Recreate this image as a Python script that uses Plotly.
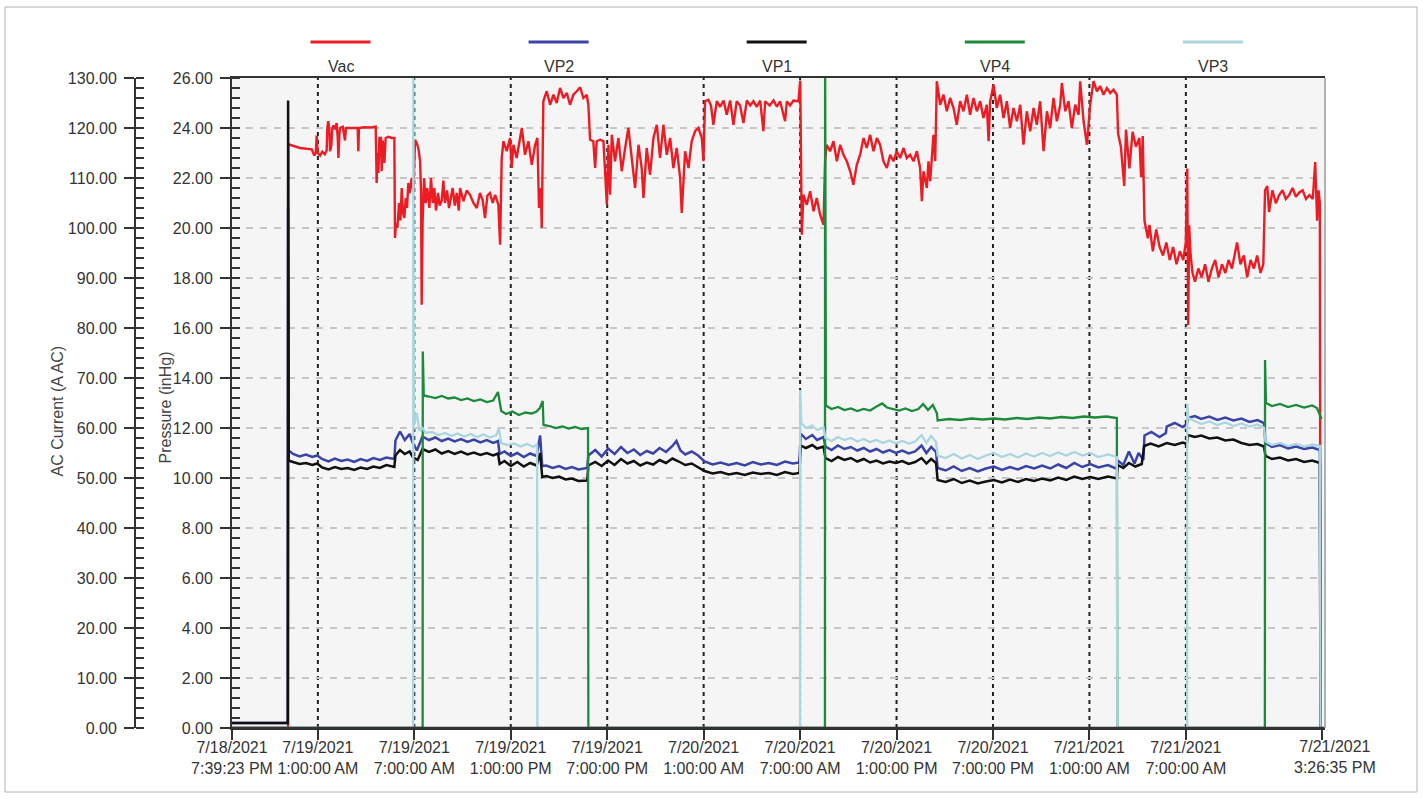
import pandas as pd
import plotly.graph_objects as go

# ---------------- data (hours since 7/18/2021 7:39:23 PM, value) ----------------
START = "2021-07-18 19:39:23"
X_END = "2021-07-21 15:39:23"

VAC_INHG = [
    (0.00, 0.0), (3.49, 0.0), (3.50, 23.35), (4.23, 23.2), (4.96, 23.15), (5.12, 22.9), (5.21, 23.0), (5.27, 23.7),
    (5.33, 23.0), (5.48, 22.9), (5.62, 23.05), (5.77, 22.95), (5.89, 23.1), (5.93, 24.0), (5.99, 24.27), (6.06, 23.9),
    (6.10, 23.07), (6.18, 23.3), (6.24, 24.0), (6.31, 24.1), (6.41, 23.95), (6.51, 24.2), (6.58, 23.6), (6.62, 22.8),
    (6.68, 23.7), (6.72, 24.0), (6.89, 24.05), (7.03, 23.5), (7.09, 24.0), (7.34, 24.0), (7.65, 24.02), (7.82, 24.0),
    (7.86, 23.07), (7.90, 24.0), (8.21, 24.03), (8.63, 24.02), (8.94, 24.05), (9.00, 21.8), (9.04, 23.0), (9.11, 22.2),
    (9.17, 23.6), (9.27, 23.6), (9.31, 22.27), (9.38, 23.5), (9.48, 22.6), (9.56, 23.6), (9.73, 23.65), (9.94, 23.6),
    (10.10, 23.6), (10.14, 19.6), (10.21, 20.2), (10.29, 20.0), (10.39, 21.0), (10.48, 20.3), (10.56, 21.6), (10.64, 20.6),
    (10.72, 20.4), (10.81, 21.2), (10.89, 20.8), (10.97, 21.8), (11.06, 21.4), (11.18, 22.0), (11.28, 21.5), (11.39, 23.53),
    (11.49, 23.4), (11.59, 23.2), (11.70, 22.7), (11.76, 21.5), (11.80, 16.93), (11.86, 20.27), (11.95, 22.0), (12.05, 21.0),
    (12.15, 21.6), (12.28, 20.8), (12.38, 22.0), (12.49, 21.0), (12.59, 21.6), (12.69, 20.7), (12.82, 21.4), (12.92, 20.9),
    (13.05, 21.1), (13.15, 21.9), (13.25, 21.0), (13.38, 21.5), (13.50, 20.8), (13.61, 21.2), (13.73, 21.6), (13.86, 20.9),
    (13.98, 21.4), (14.11, 20.7), (14.19, 21.6), (14.40, 21.07), (14.60, 21.5), (14.81, 21.33), (15.02, 21.0), (15.23, 20.8),
    (15.43, 21.4), (15.60, 21.1), (15.74, 20.4), (15.89, 21.3), (16.05, 21.4), (16.22, 21.0), (16.37, 21.33), (16.57, 20.93),
    (16.68, 19.33), (16.78, 22.8), (16.89, 23.47), (17.09, 23.07), (17.30, 23.6), (17.40, 22.4), (17.51, 23.33), (17.71, 22.8),
    (17.92, 23.6), (18.03, 24.0), (18.23, 22.93), (18.44, 23.47), (18.65, 22.53), (18.86, 23.33), (19.00, 23.6), (19.10, 20.8),
    (19.21, 21.6), (19.27, 20.0), (19.37, 25.07), (19.58, 25.47), (19.79, 24.93), (20.00, 25.33), (20.20, 25.0), (20.41, 25.6),
    (20.62, 25.2), (20.83, 25.4), (21.03, 24.93), (21.24, 25.33), (21.45, 25.47), (21.66, 25.63), (21.86, 25.2), (22.07, 25.33),
    (22.17, 24.93), (22.28, 23.53), (22.48, 23.47), (22.59, 22.4), (22.69, 23.47), (22.90, 23.53), (23.11, 23.47), (23.32, 20.93),
    (23.42, 23.33), (23.52, 21.33), (23.63, 23.73), (23.83, 22.67), (24.04, 23.6), (24.25, 22.27), (24.46, 23.2), (24.66, 24.0),
    (24.87, 22.8), (25.08, 21.6), (25.29, 23.33), (25.49, 22.4), (25.60, 21.2), (25.80, 23.2), (26.01, 22.13), (26.22, 23.6),
    (26.43, 24.13), (26.63, 22.8), (26.84, 24.13), (27.05, 22.93), (27.26, 23.6), (27.46, 22.4), (27.67, 23.2), (27.88, 22.0),
    (27.98, 20.6), (28.19, 23.07), (28.40, 22.4), (28.60, 23.47), (28.81, 23.87), (29.02, 24.0), (29.23, 23.6), (29.33, 22.67),
    (29.43, 25.07), (29.64, 25.13), (29.80, 24.9), (29.95, 24.13), (30.16, 25.07), (30.37, 24.85), (30.58, 25.1), (30.78, 24.53),
    (30.99, 25.1), (31.20, 24.13), (31.40, 25.07), (31.61, 24.9), (31.82, 24.2), (32.03, 25.1), (32.24, 24.9), (32.44, 25.07),
    (32.65, 24.85), (32.86, 25.1), (33.06, 23.87), (33.17, 25.07), (33.45, 24.9), (33.69, 25.1), (33.90, 24.85), (34.10, 25.07),
    (34.41, 24.27), (34.52, 25.07), (34.72, 24.9), (34.93, 25.1), (35.24, 25.07), (35.35, 25.9), (35.45, 19.73), (35.55, 21.33),
    (35.76, 20.93), (35.97, 21.47), (36.18, 20.67), (36.38, 21.2), (36.59, 20.53), (36.80, 20.13), (36.90, 22.67), (37.00, 23.33),
    (37.21, 23.07), (37.42, 23.47), (37.63, 22.67), (37.84, 23.33), (38.04, 22.93), (38.25, 22.67), (38.46, 22.27), (38.66, 21.73),
    (38.87, 22.53), (39.08, 22.93), (39.29, 23.6), (39.49, 23.2), (39.70, 23.73), (39.91, 23.07), (40.12, 23.6), (40.32, 23.33),
    (40.53, 22.67), (40.74, 22.4), (40.95, 22.93), (41.15, 22.67), (41.36, 23.07), (41.57, 22.8), (41.78, 23.2), (41.98, 22.8),
    (42.19, 22.93), (42.40, 22.67), (42.61, 23.07), (42.81, 22.4), (42.92, 21.07), (43.02, 22.27), (43.23, 21.6), (43.33, 22.67),
    (43.44, 21.87), (43.64, 23.73), (43.75, 22.67), (43.85, 25.87), (44.06, 24.93), (44.27, 25.33), (44.47, 24.67), (44.68, 25.2),
    (44.89, 24.8), (45.09, 24.13), (45.30, 25.07), (45.51, 24.67), (45.72, 25.33), (45.92, 24.53), (46.13, 25.2), (46.34, 24.67),
    (46.55, 25.07), (46.75, 24.4), (46.96, 24.93), (47.07, 23.47), (47.17, 25.07), (47.38, 25.73), (47.58, 24.8), (47.79, 25.33),
    (48.00, 24.4), (48.21, 25.07), (48.41, 24.0), (48.62, 24.8), (48.83, 24.27), (49.04, 24.93), (49.24, 23.33), (49.45, 24.67),
    (49.66, 23.87), (49.87, 24.8), (50.07, 24.13), (50.28, 25.07), (50.49, 23.07), (50.70, 24.67), (50.90, 24.0), (51.11, 25.2),
    (51.32, 24.27), (51.53, 24.93), (51.63, 25.8), (51.84, 24.67), (52.04, 25.07), (52.25, 24.0), (52.46, 24.93), (52.67, 24.53),
    (52.77, 25.87), (52.98, 24.27), (53.19, 23.33), (53.39, 24.93), (53.60, 25.87), (53.81, 25.47), (54.02, 25.67), (54.22, 25.33),
    (54.43, 25.6), (54.64, 25.4), (54.84, 25.53), (55.05, 25.33), (55.13, 23.77), (55.30, 23.25), (55.51, 21.68), (55.62, 23.94),
    (55.83, 22.38), (56.03, 23.85), (56.24, 23.25), (56.45, 23.6), (56.56, 22.03), (56.66, 23.68), (56.77, 20.29), (56.98, 19.59),
    (57.08, 20.12), (57.29, 19.07), (57.50, 19.94), (57.71, 19.24), (57.92, 18.9), (58.13, 19.42), (58.34, 18.72), (58.55, 19.24),
    (58.76, 18.55), (58.97, 19.07), (59.18, 18.72), (59.34, 19.42), (59.43, 22.38), (59.49, 16.11), (59.55, 20.11), (59.64, 18.9),
    (59.76, 18.2), (59.91, 17.85), (60.12, 18.38), (60.33, 18.03), (60.54, 18.55), (60.75, 17.85), (60.96, 18.38), (61.17, 18.72),
    (61.38, 18.03), (61.59, 18.55), (61.80, 18.2), (62.00, 18.72), (62.21, 18.38), (62.42, 19.07), (62.53, 19.42), (62.74, 18.55),
    (62.95, 18.9), (63.16, 18.03), (63.37, 18.72), (63.58, 18.38), (63.78, 18.9), (63.99, 18.2), (64.16, 18.55), (64.27, 21.51),
    (64.41, 21.68), (64.52, 20.64), (64.73, 21.51), (64.94, 20.99), (65.15, 21.32), (65.36, 21.51), (65.56, 21.16), (65.77, 21.32),
    (65.98, 21.6), (66.19, 21.25), (66.40, 21.42), (66.61, 21.51), (66.82, 21.16), (67.03, 21.32), (67.24, 21.16), (67.39, 22.64),
    (67.51, 20.29), (67.60, 21.51), (67.68, 20.99), (67.72, 0.0), (67.79, 0.0),
]

VP2_AMPS = [
    (0.00, 1.0), (3.47, 1.0), (3.49, 104.0), (3.53, 55.5), (3.8, 54.8), (4.2, 54.3), (4.6, 54.7), (5.0, 54.2), (5.3, 54.5),
    (5.6, 53.8), (6.0, 53.3), (6.4, 53.9), (6.8, 53.4), (7.2, 53.7), (7.6, 53.2), (8.0, 53.8), (8.4, 53.4), (8.8, 54.0),
    (9.2, 53.6), (9.6, 54.1), (10.1, 53.8), (10.17, 57.5), (10.45, 59.3), (10.75, 57.6), (11.05, 58.8), (11.25, 57.0),
    (11.5, 55.5), (11.85, 58.3), (12.25, 57.6), (12.65, 58.1), (13.05, 57.4), (13.45, 57.9), (13.85, 57.3), (14.25, 57.8),
    (14.65, 57.2), (15.05, 57.7), (15.45, 57.1), (15.85, 57.6), (16.25, 57.0), (16.55, 57.4), (16.65, 54.8), (16.95, 55.3),
    (17.35, 54.4), (17.75, 55.0), (18.15, 54.2), (18.55, 54.9), (18.95, 54.4), (19.17, 58.5), (19.3, 52.4), (19.55, 52.5),
    (19.95, 52.0), (20.35, 52.4), (20.75, 51.8), (21.15, 52.2), (21.55, 51.7), (22.1, 52.0), (22.17, 54.5), (22.6, 55.6),
    (23.0, 54.3), (23.4, 55.9), (23.8, 54.8), (24.2, 56.2), (24.6, 55.0), (25.0, 55.7), (25.4, 54.6), (25.8, 55.4),
    (26.2, 54.9), (26.6, 56.0), (27.0, 55.2), (27.4, 56.4), (27.65, 57.4), (27.9, 55.5), (28.2, 54.7), (28.6, 55.3),
    (29.0, 54.5), (29.4, 53.3), (29.9, 52.7), (30.4, 53.1), (30.9, 52.6), (31.4, 53.0), (31.9, 52.5), (32.4, 53.2),
    (32.9, 52.7), (33.4, 53.0), (33.9, 52.6), (34.4, 53.3), (34.9, 52.9), (35.3, 53.1), (35.38, 58.9), (35.7, 57.8),
    (36.1, 58.6), (36.4, 57.6), (36.8, 58.2), (36.92, 56.3), (37.3, 55.6), (37.7, 56.5), (38.1, 55.8), (38.5, 56.2),
    (38.9, 55.5), (39.3, 56.0), (39.7, 55.3), (40.1, 55.8), (40.5, 55.1), (40.9, 55.6), (41.3, 55.0), (41.7, 55.5),
    (42.1, 54.9), (42.5, 55.3), (42.9, 56.5), (43.2, 55.0), (43.5, 56.2), (43.8, 55.2), (43.9, 52.0), (44.4, 51.5),
    (44.9, 52.3), (45.4, 51.4), (45.9, 52.0), (46.4, 51.3), (46.9, 51.9), (47.4, 52.3), (47.9, 51.6), (48.4, 52.2),
    (48.9, 51.7), (49.4, 52.4), (49.9, 51.9), (50.4, 52.5), (50.9, 51.9), (51.4, 52.7), (51.9, 52.0), (52.4, 53.0),
    (52.9, 52.2), (53.4, 52.8), (53.9, 52.1), (54.5, 52.6), (55.05, 51.8), (55.1, 53.5), (55.45, 52.6), (55.8, 55.3),
    (56.15, 52.9), (56.4, 55.0), (56.7, 53.6), (56.77, 58.5), (57.2, 59.2), (57.7, 58.2), (58.1, 59.0), (58.15, 60.3),
    (58.65, 61.0), (59.15, 60.2), (59.4, 60.8), (59.47, 62.0), (59.9, 62.4), (60.3, 61.8), (60.8, 62.3), (61.3, 61.6),
    (61.8, 62.1), (62.3, 61.5), (62.8, 61.9), (63.3, 61.2), (63.8, 61.6), (64.2, 61.0), (64.3, 57.0), (64.7, 56.2),
    (65.2, 56.6), (65.7, 55.9), (66.2, 56.3), (66.7, 55.8), (67.2, 56.1), (67.68, 55.6), (67.72, 0.5), (67.79, 0.5),
]

VP1_AMPS = [
    (0.00, 1.0), (3.47, 1.0), (3.49, 125.5), (3.53, 53.5), (3.8, 53.2), (4.2, 52.8), (4.6, 53.0), (5.0, 52.6), (5.3, 52.9),
    (5.6, 52.1), (6.0, 51.7), (6.4, 52.2), (6.8, 51.8), (7.2, 52.0), (7.6, 51.6), (8.0, 52.1), (8.4, 51.8), (8.8, 52.3),
    (9.2, 52.0), (9.6, 52.6), (10.1, 52.2), (10.17, 54.5), (10.45, 55.6), (10.75, 54.8), (11.05, 55.3), (11.25, 54.2),
    (11.55, 53.6), (11.85, 55.8), (12.25, 55.2), (12.65, 55.7), (13.05, 54.9), (13.45, 55.4), (13.85, 54.8), (14.25, 55.3),
    (14.65, 54.7), (15.05, 55.1), (15.45, 54.6), (15.85, 55.0), (16.25, 54.5), (16.55, 54.9), (16.65, 52.8), (16.95, 53.4),
    (17.35, 52.4), (17.75, 53.2), (18.15, 52.3), (18.55, 53.0), (18.95, 52.5), (19.17, 55.0), (19.3, 50.2), (19.55, 50.4),
    (19.95, 50.0), (20.35, 50.3), (20.75, 49.7), (21.15, 49.9), (21.55, 49.4), (22.1, 49.5), (22.17, 52.5), (22.6, 53.2),
    (23.0, 52.4), (23.4, 53.5), (23.8, 52.6), (24.2, 53.8), (24.6, 52.9), (25.0, 53.4), (25.4, 52.5), (25.8, 53.1),
    (26.2, 52.7), (26.6, 53.6), (27.0, 53.0), (27.4, 53.9), (27.8, 53.3), (28.2, 52.6), (28.6, 52.9), (29.0, 52.2),
    (29.4, 51.4), (29.9, 50.9), (30.4, 51.2), (30.9, 50.7), (31.4, 51.0), (31.9, 50.6), (32.4, 51.1), (32.9, 50.8),
    (33.4, 51.0), (33.9, 50.6), (34.4, 51.2), (34.9, 50.8), (35.3, 51.0), (35.38, 56.5), (35.7, 56.0), (36.1, 56.6),
    (36.4, 55.9), (36.8, 56.3), (36.92, 54.0), (37.3, 53.4), (37.7, 54.2), (38.1, 53.6), (38.5, 54.0), (38.9, 53.3),
    (39.3, 53.8), (39.7, 53.1), (40.1, 53.5), (40.5, 52.9), (40.9, 53.3), (41.3, 53.0), (41.7, 53.4), (42.1, 52.8),
    (42.5, 53.2), (42.9, 54.0), (43.2, 52.9), (43.5, 53.8), (43.8, 53.0), (43.9, 49.6), (44.4, 49.2), (44.9, 49.8),
    (45.4, 49.0), (45.9, 49.5), (46.4, 48.9), (46.9, 49.3), (47.4, 49.6), (47.9, 49.1), (48.4, 49.7), (48.9, 49.2),
    (49.4, 49.8), (49.9, 49.4), (50.4, 49.9), (50.9, 49.5), (51.4, 50.1), (51.9, 49.6), (52.4, 50.3), (52.9, 49.8),
    (53.4, 50.2), (53.9, 49.8), (54.5, 50.3), (55.05, 49.9), (55.1, 52.6), (55.45, 52.0), (55.8, 53.0), (56.2, 52.3),
    (56.6, 52.8), (56.75, 56.4), (57.15, 56.9), (57.65, 56.3), (58.15, 57.0), (58.65, 56.6), (59.15, 57.1), (59.4, 56.8),
    (59.47, 58.6), (59.9, 58.2), (60.3, 58.5), (60.8, 57.9), (61.3, 58.1), (61.8, 57.5), (62.3, 57.7), (62.8, 57.0),
    (63.3, 56.6), (63.8, 56.8), (64.2, 56.3), (64.3, 54.4), (64.7, 53.8), (65.2, 54.1), (65.7, 53.5), (66.2, 53.8),
    (66.7, 53.2), (67.2, 53.5), (67.68, 53.0), (67.72, 0.5), (67.79, 0.5),
]

VP4_AMPS = [
    (0.00, 0.0), (11.86, 0.0), (11.87, 75.3), (11.93, 66.5), (12.25, 66.3), (12.65, 66.0), (13.05, 66.4), (13.45, 65.9),
    (13.85, 66.1), (14.25, 65.6), (14.65, 65.9), (15.05, 65.4), (15.45, 65.7), (15.85, 65.2), (16.25, 65.5), (16.55, 67.2),
    (16.75, 63.4), (17.05, 62.8), (17.45, 63.3), (17.85, 62.6), (18.25, 63.1), (18.65, 62.9), (18.95, 63.3), (19.15, 64.0),
    (19.33, 65.4), (19.38, 60.6), (19.75, 60.4), (20.15, 60.0), (20.55, 60.3), (20.95, 59.9), (21.35, 60.2), (21.75, 59.8),
    (22.15, 60.0), (22.17, 0.0), (36.89, 0.0), (36.90, 135.0), (36.95, 64.5), (37.3, 63.8), (37.7, 64.2), (38.1, 63.6),
    (38.5, 63.9), (38.9, 63.4), (39.3, 63.8), (39.7, 63.5), (40.1, 64.3), (40.45, 64.9), (40.75, 64.1), (41.1, 63.8),
    (41.5, 63.5), (41.9, 63.9), (42.3, 63.4), (42.7, 63.8), (43.0, 64.8), (43.3, 63.6), (43.6, 64.6), (43.85, 63.0),
    (43.9, 61.5), (44.6, 61.8), (45.3, 61.6), (46.0, 61.9), (46.7, 61.7), (47.4, 61.9), (48.1, 61.7), (48.8, 62.0),
    (49.5, 61.8), (50.2, 62.1), (50.9, 61.9), (51.6, 62.2), (52.3, 62.0), (53.0, 62.3), (53.7, 62.1), (54.4, 62.3),
    (55.05, 62.0), (55.08, 0.0), (64.26, 0.0), (64.27, 73.6), (64.33, 65.0), (64.7, 64.4), (65.2, 64.8), (65.7, 64.2),
    (66.2, 64.6), (66.7, 64.1), (67.2, 64.5), (67.5, 64.0), (67.7, 62.5), (67.79, 61.8),
]

VP3_AMPS = [
    (0.00, 0.0), (11.27, 0.0), (11.28, 135.0), (11.32, 60.5), (11.5, 63.0), (11.65, 59.5), (11.85, 60.0), (12.05, 59.0),
    (12.45, 59.2), (12.85, 58.6), (13.25, 59.0), (13.65, 58.4), (14.05, 58.9), (14.45, 58.3), (14.85, 58.8), (15.25, 58.2),
    (15.65, 58.7), (16.05, 58.1), (16.45, 58.6), (16.6, 60.0), (16.75, 57.0), (17.15, 56.6), (17.55, 56.9), (17.95, 56.3),
    (18.35, 56.8), (18.75, 56.2), (18.98, 56.7), (19.0, 0.0), (35.34, 0.0), (35.35, 67.6), (35.42, 61.0), (35.7, 60.0),
    (36.1, 60.5), (36.4, 59.6), (36.8, 60.1), (36.92, 58.0), (37.3, 57.4), (37.7, 58.2), (38.1, 57.6), (38.5, 58.0),
    (38.9, 57.3), (39.3, 57.8), (39.7, 57.2), (40.1, 57.6), (40.5, 57.0), (40.9, 57.5), (41.3, 56.9), (41.7, 57.4),
    (42.1, 56.9), (42.5, 57.3), (42.9, 58.6), (43.2, 57.0), (43.5, 58.4), (43.8, 57.2), (43.9, 54.5), (44.4, 54.0),
    (44.9, 54.8), (45.4, 53.9), (45.9, 54.6), (46.4, 53.8), (46.9, 54.5), (47.4, 55.0), (47.9, 54.2), (48.4, 54.8),
    (48.9, 54.1), (49.4, 54.9), (49.9, 54.3), (50.4, 55.0), (50.9, 54.4), (51.4, 55.1), (51.9, 54.5), (52.4, 55.2),
    (52.9, 54.5), (53.4, 55.0), (53.9, 54.2), (54.5, 54.7), (55.05, 54.2), (55.08, 0.0), (59.42, 0.0), (59.43, 64.9),
    (59.5, 62.0), (59.9, 61.4), (60.3, 60.8), (60.8, 61.3), (61.3, 60.6), (61.8, 61.1), (62.3, 60.4), (62.8, 60.9),
    (63.3, 60.3), (63.8, 60.7), (64.2, 60.1), (64.3, 57.3), (64.7, 56.6), (65.2, 57.0), (65.7, 56.4), (66.2, 56.8),
    (66.7, 56.3), (67.2, 56.7), (67.68, 56.4), (67.72, 0.0), (67.79, 0.0),
]

SERIES_NAMES = ["Vac", "VP2", "VP1", "VP4", "VP3"]
SERIES_COLORS = ["#ec1c24", "#3a44a6", "#111111", "#1b8a3a", "#a9d6df"]
SERIES_WIDTHS = [2.4, 2.5, 2.5, 2.3, 2.3]

TICK_TIMES = ["2021-07-18 19:39:23", "2021-07-19 01:00:00", "2021-07-19 07:00:00", "2021-07-19 13:00:00",
              "2021-07-19 19:00:00", "2021-07-20 01:00:00", "2021-07-20 07:00:00", "2021-07-20 13:00:00",
              "2021-07-20 19:00:00", "2021-07-21 01:00:00", "2021-07-21 07:00:00", "2021-07-21 15:26:35"]
TICK_TEXT = ["7/18/2021<br>7:39:23 PM", "7/19/2021<br>1:00:00 AM", "7/19/2021<br>7:00:00 AM", "7/19/2021<br>1:00:00 PM",
             "7/19/2021<br>7:00:00 PM", "7/20/2021<br>1:00:00 AM", "7/20/2021<br>7:00:00 AM", "7/20/2021<br>1:00:00 PM",
             "7/20/2021<br>7:00:00 PM", "7/21/2021<br>1:00:00 AM", "7/21/2021<br>7:00:00 AM", "7/21/2021<br>3:26:35 PM"]

# ---------------- figure ----------------
W, H = 1423, 799
FONT = "Liberation Sans, Arial, sans-serif"
start_ts = pd.Timestamp(START)


def split(points):
    hours = [p[0] for p in points]
    vals = [p[1] for p in points]
    return start_ts + pd.to_timedelta(hours, unit="h"), vals


fig = go.Figure()
all_series = [(VAC_INHG, "y"), (VP2_AMPS, "y2"), (VP1_AMPS, "y2"), (VP4_AMPS, "y2"), (VP3_AMPS, "y2")]
for (pts, axis), name, color, lw in zip(all_series, SERIES_NAMES, SERIES_COLORS, SERIES_WIDTHS):
    xs, ys = split(pts)
    fig.add_trace(go.Scatter(x=xs, y=ys, name=name, mode="lines", yaxis=axis,
                             line=dict(color=color, width=lw), hoverinfo="x+y+name"))

px_x = lambda p: p / W
px_y = lambda p: 1 - p / H

fig.update_layout(
    width=W, height=H, margin=dict(l=0, r=0, t=0, b=0, autoexpand=False),
    paper_bgcolor="white", plot_bgcolor="#f5f5f5", showlegend=False,
    font=dict(family=FONT, size=16, color="#333333"),
    xaxis=dict(
        domain=[px_x(232), px_x(1325)], type="date", range=[START, X_END], automargin=False,
        tickmode="array", tickvals=TICK_TIMES, ticktext=TICK_TEXT[:-1] + [""], tickangle=0,
        ticks="outside", ticklen=10, tickwidth=1.5, tickcolor="#333",
        showline=True, linecolor="#333", linewidth=2, mirror=True,
        showgrid=False, zeroline=False, ticklabelstandoff=-6,
    ),
    yaxis=dict(
        domain=[px_y(728), px_y(78)], range=[0, 26], tickmode="linear", tick0=0, dtick=2, automargin=False,
        tickformat=".2f", ticks="outside", ticklen=10, tickwidth=1.5, tickcolor="#333",
        minor=dict(ticks="inside", tickmode="linear", tick0=0, dtick=0.4, ticklen=8, tickwidth=1.5,
                   tickcolor="#333", showgrid=False),
        showline=True, linecolor="#333", linewidth=2,
        showgrid=True, gridcolor="#c6c6c6", gridwidth=1.5, griddash="7px,7px",
        zeroline=False, ticklabelstandoff=4,
    ),
    yaxis2=dict(
        overlaying="y", anchor="free", position=px_x(135), side="left", range=[0, 130], automargin=False,
        tickmode="linear", tick0=0, dtick=10, tickformat=".2f",
        ticks="outside", ticklen=10, tickwidth=1.5, tickcolor="#333",
        minor=dict(ticks="inside", tickmode="linear", tick0=0, dtick=2, ticklen=8, tickwidth=1.5,
                   tickcolor="#333", showgrid=False),
        showline=True, linecolor="#333", linewidth=2, showgrid=False, zeroline=False,
        ticklabelstandoff=4,
    ),
)

# vertical dashed time grid at the 6-hour ticks
for t in TICK_TIMES[1:-1]:
    fig.add_shape(type="line", xref="x", yref="paper", x0=t, x1=t, y0=px_y(728), y1=px_y(78),
                  line=dict(color="#222222", width=2, dash="4px,4px"), layer="below")

# bottom axis line redrawn above the traces (pumps sitting at 0 A stay hidden under it)
fig.add_shape(type="line", xref="paper", yref="paper", x0=px_x(231), x1=px_x(1325), y0=px_y(728), y1=px_y(728),
              line=dict(color="#333333", width=2.5), layer="above")

# right border of plot area
fig.add_shape(type="line", xref="paper", yref="paper", x0=px_x(1325), x1=px_x(1325), y0=px_y(728), y1=px_y(78),
              line=dict(color="#9a9a9a", width=1.5), layer="above")

# outer frame
fig.add_shape(type="rect", xref="paper", yref="paper", x0=px_x(5), x1=px_x(1417), y0=px_y(792), y1=px_y(7),
              line=dict(color="#b4b4b4", width=1), layer="above")

# last x label (drawn slightly right of its tick, as in the original)
fig.add_annotation(x=TICK_TIMES[-1], xref="x", y=px_y(728), yref="paper", text=TICK_TEXT[-1],
                   showarrow=False, xanchor="center", yanchor="top", xshift=13, yshift=-8,
                   font=dict(family=FONT, size=16, color="#333"))

# axis titles
fig.add_annotation(x=px_x(46), y=px_y(411), xref="paper", yref="paper", text="AC Current (A AC)",
                   textangle=-90, showarrow=False, font=dict(family=FONT, size=16, color="#444"))
fig.add_annotation(x=px_x(155), y=px_y(408), xref="paper", yref="paper", text="Pressure (inHg)",
                   textangle=-90, showarrow=False, font=dict(family=FONT, size=16, color="#444"))

# legend across the top: line sample above each name
LEG_X0, LEG_STEP = 340.5, 218.1
for i, (name, color) in enumerate(zip(SERIES_NAMES, SERIES_COLORS)):
    cx = LEG_X0 + i * LEG_STEP
    fig.add_shape(type="line", xref="paper", yref="paper", x0=px_x(cx - 30), x1=px_x(cx + 30),
                  y0=px_y(42), y1=px_y(42), line=dict(color=color, width=3), layer="above")
    fig.add_annotation(x=px_x(cx), y=px_y(66), xref="paper", yref="paper", text=name, showarrow=False,
                       xanchor="center", yanchor="middle", font=dict(family=FONT, size=16, color="#333"))

fig.write_html("out.html", config={"displayModeBar": False},
               post_script="document.body.style.margin='0';document.body.style.overflow='hidden';")
